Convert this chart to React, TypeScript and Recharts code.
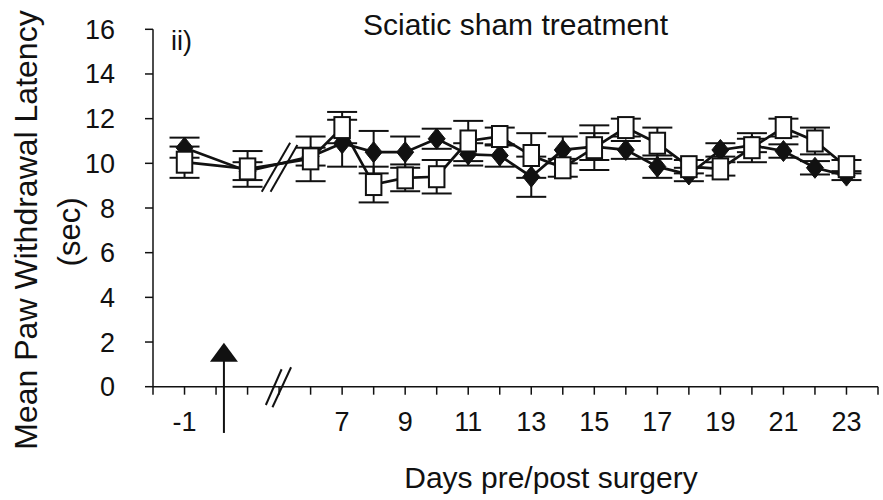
import {
  ComposedChart,
  ErrorBar,
  Line,
  ReferenceDot,
  ReferenceLine,
  XAxis,
  YAxis,
} from "recharts";

// days pre/post surgery; days 2-5 are cut out by the axis break
const days = [-1, 1, 6, 7, 8, 9, 10, 11, 12, 13, 14, 15, 16, 17, 18, 19, 20, 21, 22, 23];

// filled diamonds
const diamondMean = [10.7, 9.65, 10.3, 10.9, 10.5, 10.5, 11.1, 10.4, 10.35, 9.4, 10.6, 10.75, 10.6, 9.85, 9.5, 10.6, 10.8, 10.55, 9.8, 9.45];
const diamondSem = [0.45, 0.4, 0.4, 1.05, 0.95, 0.7, 0.45, 0.5, 0.5, 0.9, 0.6, 0.6, 0.4, 0.5, 0.3, 0.3, 0.3, 0.3, 0.3, 0.2];

// open squares
const squareMean = [10.05, 9.75, 10.2, 11.6, 9.05, 9.35, 9.4, 11.0, 11.2, 10.35, 9.8, 10.7, 11.6, 10.9, 9.85, 9.75, 10.7, 11.6, 11.0, 9.85];
const squareSem = [0.7, 0.8, 1.0, 0.7, 0.8, 0.6, 0.75, 0.9, 0.4, 1.0, 0.4, 1.0, 0.4, 0.7, 0.3, 0.3, 0.65, 0.4, 0.6, 0.3];

const labelledDays = [-1, 7, 9, 11, 13, 15, 17, 19, 21, 23];
const yTicks = [0, 2, 4, 6, 8, 10, 12, 14, 16];

// compressed axis: pre-op days shifted right so the break sits at 5
const axisPos = (d: number) => (d < 6 ? d + 3 : d);
const axisDay = (p: number) => (p < 5 ? p - 3 : p);

const xTicks = Array.from({ length: 24 }, (_, i) => i + 1);

const data = days.map((d, i) => ({
  x: axisPos(d),
  diamond: diamondMean[i],
  diamondErr: diamondSem[i],
  square: squareMean[i],
  squareErr: squareSem[i],
}));

const font = "'Liberation Sans', Arial, sans-serif";
const ink = "#111";

function XTick({ x, y, payload }: any) {
  const day = axisDay(payload.value);
  const label = labelledDays.includes(day) ? String(day) : "";
  return (
    <text x={x} y={y + 34} textAnchor="middle" fontSize={27} fontFamily={font} fill={ink}>
      {label}
    </text>
  );
}

function YTick({ x, y, payload }: any) {
  return (
    <text x={x - 28} y={y + 9.5} textAnchor="end" fontSize={27} fontFamily={font} fill={ink}>
      {payload.value}
    </text>
  );
}

function Diamond({ cx, cy }: any) {
  if (cx == null || cy == null) return null;
  return (
    <polygon
      points={`${cx},${cy - 10.5} ${cx + 8.5},${cy} ${cx},${cy + 10.5} ${cx - 8.5},${cy}`}
      fill={ink}
      stroke={ink}
      strokeWidth={1}
    />
  );
}

function Square({ cx, cy }: any) {
  if (cx == null || cy == null) return null;
  return <rect x={cx - 7.75} y={cy - 10.5} width={15.5} height={21} fill="#fff" stroke={ink} strokeWidth={2} />;
}

function ArrowHead({ cx, cy }: any) {
  return <polygon points={`${cx - 14},${cy} ${cx + 14},${cy} ${cx},${cy - 19}`} fill={ink} />;
}

export default function App() {
  return (
    <div style={{ position: "absolute", left: 0, top: 0, width: 883, height: 500, background: "#fff" }}>
      <ComposedChart
        width={883}
        height={500}
        data={data}
        margin={{ top: 29.3, right: 5, bottom: 73.3, left: 0 }}
      >
        <XAxis
          type="number"
          dataKey="x"
          domain={[1, 24]}
          ticks={xTicks}
          interval={0}
          height={40}
          tick={<XTick />}
          tickSize={8}
          axisLine={{ stroke: ink, strokeWidth: 1.5 }}
          tickLine={{ stroke: ink, strokeWidth: 1.5 }}
        />
        <YAxis
          type="number"
          domain={[0, 16]}
          ticks={yTicks}
          interval={0}
          width={153}
          tick={<YTick />}
          tickSize={8}
          axisLine={{ stroke: ink, strokeWidth: 1.5 }}
          tickLine={{ stroke: ink, strokeWidth: 1.5 }}
        />
        {/* axis break */}
        <ReferenceLine segment={[{ x: 4.58, y: -0.82 }, { x: 5.08, y: 0.78 }]} stroke={ink} strokeWidth={2} ifOverflow="visible" />
        <ReferenceLine segment={[{ x: 4.79, y: -0.92 }, { x: 5.38, y: 0.87 }]} stroke={ink} strokeWidth={2} ifOverflow="visible" />
        {/* surgery arrow */}
        <ReferenceLine segment={[{ x: 3.25, y: -2.07 }, { x: 3.25, y: 1.2 }]} stroke={ink} strokeWidth={2} ifOverflow="visible" />
        <ReferenceDot x={3.25} y={1.12} r={0} ifOverflow="visible" shape={<ArrowHead />} />
        <Line
          dataKey="diamond"
          stroke={ink}
          strokeWidth={2.7}
          dot={<Diamond />}
          activeDot={false}
          isAnimationActive={false}
        >
          <ErrorBar dataKey="diamondErr" direction="y" width={15} stroke={ink} strokeWidth={2} />
        </Line>
        <Line
          dataKey="square"
          stroke={ink}
          strokeWidth={2.7}
          dot={<Square />}
          activeDot={false}
          isAnimationActive={false}
        >
          <ErrorBar dataKey="squareErr" direction="y" width={15} stroke={ink} strokeWidth={2} />
        </Line>
        {/* break marks over the data lines */}
        <ReferenceLine segment={[{ x: 4.45, y: 8.73 }, { x: 5.35, y: 10.92 }]} stroke={ink} strokeWidth={2} ifOverflow="visible" />
        <ReferenceLine segment={[{ x: 4.73, y: 8.73 }, { x: 5.58, y: 10.82 }]} stroke={ink} strokeWidth={2} ifOverflow="visible" />
      </ComposedChart>
      <svg
        width={883}
        height={500}
        style={{ position: "absolute", left: 0, top: 0, pointerEvents: "none" }}
        fontFamily={font}
        fill={ink}
      >
        <text x={363} y={35} fontSize={30}>Sciatic sham treatment</text>
        <text x={171} y={50} fontSize={27}>ii)</text>
        <text x={551} y={488} fontSize={30} textAnchor="middle">Days pre/post surgery</text>
        <text transform="translate(37,230) rotate(-90)" fontSize={32} textAnchor="middle">
          Mean Paw Withdrawal Latency
        </text>
        <text transform="translate(80,232) rotate(-90)" fontSize={31} textAnchor="middle">
          (sec)
        </text>
      </svg>
    </div>
  );
}
